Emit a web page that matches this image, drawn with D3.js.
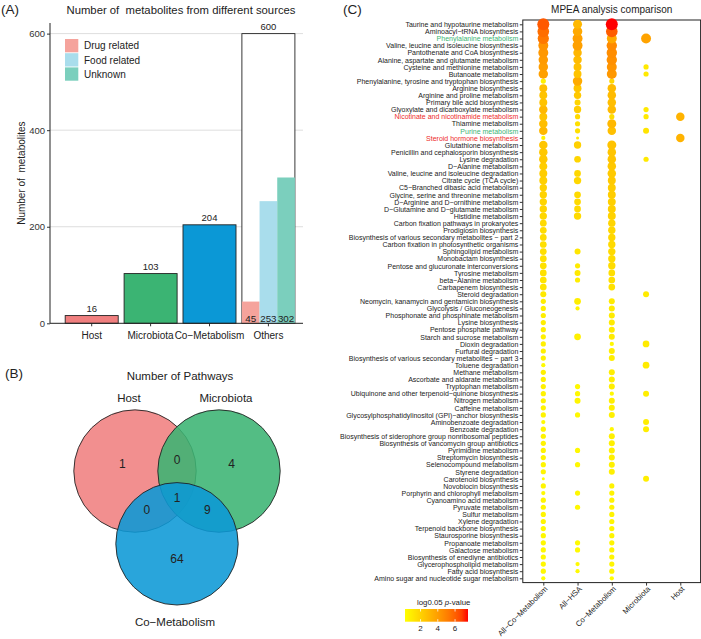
<!DOCTYPE html>
<html>
<head>
<meta charset="utf-8">
<script src="https://cdn.jsdelivr.net/npm/d3@7"></script>
<style>
html, body { margin: 0; padding: 0; background: #fff; }
svg { display: block; font-family: "Liberation Sans", Arial, Helvetica, sans-serif; }
.pre { white-space: pre; }
</style>
</head>
<body>
<svg id="chart" width="701" height="639"></svg>
<script>
// ---------- (A) metabolites by source ----------
const sources = ['Host', 'Microbiota', 'Co−Metabolism', 'Others'];
const sourceCounts = [16, 103, 204, 600];
const sourceColors = ['#f07f7f', '#3bb473', '#0b98d6', '#ffffff'];
const otherKinds = ['Drug related', 'Food related', 'Unknown'];
const otherCounts = [45, 253, 302];
const otherColors = ['#f5a39c', '#a9ddec', '#7bcfbd'];
const yTicksA = [0, 200, 400, 600];

// ---------- (B) venn of pathways ----------
const vennSets = ['Host', 'Microbiota', 'Co−Metabolism'];
const vennColors = ['#f07f7f', '#3bb473', '#0b98d6'];
const vennRegions = ['H', 'M', 'C', 'HM', 'HC', 'MC', 'HMC'];
const vennCounts = [1, 4, 64, 0, 0, 9, 1];

// ---------- (C) MPEA comparison ----------
const dotColumns = ['All−Co−Metabolism', 'All−HSA', 'Co−Metabolism', 'Microbiota', 'Host'];
const pathways = [
    'Taurine and hypotaurine metabolism',
    'Aminoacyl−tRNA biosynthesis',
    'Phenylalanine metabolism',
    'Valine, leucine and isoleucine biosynthesis',
    'Pantothenate and CoA biosynthesis',
    'Alanine, aspartate and glutamate metabolism',
    'Cysteine and methionine metabolism',
    'Butanoate metabolism',
    'Phenylalanine, tyrosine and tryptophan biosynthesis',
    'Arginine biosynthesis',
    'Arginine and proline metabolism',
    'Primary bile acid biosynthesis',
    'Glyoxylate and dicarboxylate metabolism',
    'Nicotinate and nicotinamide metabolism',
    'Thiamine metabolism',
    'Purine metabolism',
    'Steroid hormone biosynthesis',
    'Glutathione metabolism',
    'Penicillin and cephalosporin biosynthesis',
    'Lysine degradation',
    'D−Alanine metabolism',
    'Valine, leucine and isoleucine degradation',
    'Citrate cycle (TCA cycle)',
    'C5−Branched dibasic acid metabolism',
    'Glycine, serine and threonine metabolism',
    'D−Arginine and D−ornithine metabolism',
    'D−Glutamine and D−glutamate metabolism',
    'Histidine metabolism',
    'Carbon fixation pathways in prokaryotes',
    'Prodigiosin biosynthesis',
    'Biosynthesis of various secondary metabolites − part 2',
    'Carbon fixation in photosynthetic organisms',
    'Sphingolipid metabolism',
    'Monobactam biosynthesis',
    'Pentose and glucuronate interconversions',
    'Tyrosine metabolism',
    'beta−Alanine metabolism',
    'Carbapenem biosynthesis',
    'Steroid degradation',
    'Neomycin, kanamycin and gentamicin biosynthesis',
    'Glycolysis / Gluconeogenesis',
    'Phosphonate and phosphinate metabolism',
    'Lysine biosynthesis',
    'Pentose phosphate pathway',
    'Starch and sucrose metabolism',
    'Dioxin degradation',
    'Furfural degradation',
    'Biosynthesis of various secondary metabolites − part 3',
    'Toluene degradation',
    'Methane metabolism',
    'Ascorbate and aldarate metabolism',
    'Tryptophan metabolism',
    'Ubiquinone and other terpenoid−quinone biosynthesis',
    'Nitrogen metabolism',
    'Caffeine metabolism',
    'Glycosylphosphatidylinositol (GPI)−anchor biosynthesis',
    'Aminobenzoate degradation',
    'Benzoate degradation',
    'Biosynthesis of siderophore group nonribosomal peptides',
    'Biosynthesis of vancomycin group antibiotics',
    'Pyrimidine metabolism',
    'Streptomycin biosynthesis',
    'Selenocompound metabolism',
    'Styrene degradation',
    'Carotenoid biosynthesis',
    'Novobiocin biosynthesis',
    'Porphyrin and chlorophyll metabolism',
    'Cyanoamino acid metabolism',
    'Pyruvate metabolism',
    'Sulfur metabolism',
    'Xylene degradation',
    'Terpenoid backbone biosynthesis',
    'Staurosporine biosynthesis',
    'Propanoate metabolism',
    'Galactose metabolism',
    'Biosynthesis of enediyne antibiotics',
    'Glycerophospholipid metabolism',
    'Fatty acid biosynthesis',
    'Amino sugar and nucleotide sugar metabolism'
];
const labelColors = {
    'Phenylalanine metabolism': '#3db574',
    'Purine metabolism': '#3db574',
    'Nicotinate and nicotinamide metabolism': '#ee2a2a',
    'Steroid hormone biosynthesis': '#ee2a2a'
};

// dense columns: one entry per pathway (hits 0 = not enriched)
const allCoHits = [16, 15, 14, 11, 11, 10, 10, 10, 3, 7, 7, 7, 8, 7, 8, 8, 2, 8, 8, 8,
    7, 7, 7, 6, 6, 6, 6, 6, 5, 5, 5, 5, 5, 5, 5, 5, 5, 5, 4, 3,
    3, 3, 3, 3, 3, 3, 3, 3, 2, 3, 3, 3, 3, 3, 3, 3, 2, 3, 3, 3,
    3, 3, 3, 3, 1, 3, 2, 3, 3, 3, 3, 3, 3, 3, 3, 3, 3, 3, 2];
const allCoLogP = [6.2, 5.6, 5.3, 4.4, 4.2, 4.1, 4.0, 3.9, 0.8, 2.8, 2.6, 2.6, 3.0, 2.6, 2.8, 3.0, 0.7, 2.5, 2.4, 2.4,
    2.2, 2.2, 2.1, 2.0, 2.0, 1.9, 1.9, 1.8, 1.7, 1.6, 1.6, 1.5, 1.5, 1.4, 1.4, 1.4, 1.3, 1.3, 1.1, 0.9,
    0.9, 0.9, 0.9, 0.9, 0.8, 0.8, 0.8, 0.8, 0.4, 0.8, 0.8, 0.8, 0.7, 0.7, 0.7, 0.7, 0.4, 0.7, 0.7, 0.7,
    0.7, 0.7, 0.6, 0.6, 0.2, 0.6, 0.4, 0.6, 0.6, 0.6, 0.6, 0.5, 0.5, 0.5, 0.5, 0.5, 0.5, 0.5, 0.3];
const coMetHits = [16, 15, 11, 12, 12, 12, 11, 11, 3, 8, 8, 8, 8, 3, 9, 8, 0, 9, 8, 8,
    8, 8, 7, 7, 7, 7, 7, 7, 6, 6, 6, 6, 6, 6, 6, 5, 5, 5, 0, 4,
    4, 4, 4, 4, 4, 2, 4, 4, 0, 4, 4, 4, 2, 4, 4, 4, 0, 2, 4, 4,
    4, 4, 4, 4, 0, 3, 3, 3, 3, 3, 3, 3, 3, 3, 3, 3, 3, 3, 2];
const coMetLogP = [7.5, 6.1, 3.6, 4.7, 4.6, 4.5, 4.3, 4.2, 1.8, 2.9, 2.9, 2.8, 2.9, 1.6, 3.0, 2.7, 0, 2.6, 2.5, 2.5,
    2.4, 2.3, 2.3, 2.2, 2.2, 2.1, 2.1, 2.0, 1.9, 1.8, 1.8, 1.7, 1.7, 1.6, 1.6, 1.5, 1.5, 1.4, 0, 1.0,
    1.0, 1.0, 1.0, 1.0, 1.0, 0.5, 0.9, 0.9, 0, 0.9, 0.9, 0.9, 0.5, 0.9, 0.8, 0.8, 0, 0.5, 0.8, 0.8,
    0.8, 0.8, 0.8, 0.8, 0, 0.7, 0.7, 0.7, 0.7, 0.7, 0.6, 0.6, 0.6, 0.6, 0.6, 0.6, 0.6, 0.6, 0.3];
// sparse columns: [pathway row (1-based), hits, log0.05 p]
const allHsa = [[1, 9, 3.0], [2, 10, 3.6], [3, 11, 3.9], [4, 11, 3.9], [5, 8, 3.1], [6, 8, 2.9], [7, 7, 2.7],
    [8, 7, 2.6], [9, 10, 3.5], [10, 7, 2.5], [11, 6, 2.4], [12, 4, 1.9], [13, 6, 2.2], [14, 3, 1.7],
    [15, 3, 1.5], [16, 3, 1.5], [17, 1, 1.0], [18, 6, 2.1], [20, 5, 1.9], [22, 5, 1.8], [23, 6, 1.8],
    [25, 5, 1.7], [26, 5, 1.7], [27, 5, 1.7], [28, 6, 1.7], [33, 4, 1.2], [35, 3, 1.0], [36, 4, 1.1],
    [37, 3, 0.9], [40, 5, 0.9], [41, 2, 0.6], [45, 5, 0.8], [52, 3, 0.5], [53, 3, 0.5], [54, 4, 0.6],
    [56, 3, 0.5], [61, 3, 0.5], [63, 3, 0.5], [67, 3, 0.5], [69, 3, 0.5], [74, 3, 0.4], [75, 3, 0.4],
    [77, 2, 0.4], [78, 2, 0.4]];
const microbiotaHits = [[3, 11, 3.8], [7, 3, 1.1], [8, 3, 1.1], [13, 3, 1.1], [14, 3, 1.1], [16, 4, 1.3],
    [20, 3, 1.1], [39, 4, 1.0], [46, 5, 1.0], [49, 5, 1.0], [53, 4, 0.9], [57, 4, 0.9], [58, 4, 0.9], [65, 4, 0.9]];
const hostHits = [[14, 8, 3.2], [17, 8, 3.2]];
const legendTicks = [2, 4, 6];

const svg = d3.select('#chart');
const textCol = '#222';

// =================== Panel A ===================
const gA = svg.append('g');
const xA = d3.scaleBand().domain(sources).range([62.25, 297.85]).paddingInner(0.1).paddingOuter(0.05);
const yA = d3.scaleLinear().domain([0, 622]).range([323.3, 23]);

gA.append('text').attr('x', 1).attr('y', 14).attr('font-size', 13.5).attr('fill', textCol).text('(A)');
gA.append('text').attr('class', 'pre').attr('x', 181).attr('y', 13.5).attr('text-anchor', 'middle')
    .attr('font-size', 11.3).attr('fill', textCol).text('Number of  metabolites from different sources');

// grid
gA.selectAll('line.grid').data(yTicksA.filter(d => d > 0)).enter().append('line')
    .attr('x1', 50).attr('x2', 303)
    .attr('y1', d => yA(d)).attr('y2', d => yA(d))
    .attr('stroke', '#dedede').attr('stroke-width', 1);

// main bars
const barData = sources.map((s, i) => ({ s, v: sourceCounts[i], c: sourceColors[i] }));
gA.selectAll('rect.bar').data(barData).enter().append('rect')
    .attr('x', d => xA(d.s)).attr('width', xA.bandwidth())
    .attr('y', d => yA(d.v)).attr('height', d => yA(0) - yA(d.v))
    .attr('fill', d => d.c).attr('stroke', '#222').attr('stroke-width', 0.9);

// sub bars inside "Others"
const xSub = d3.scaleBand().domain(otherKinds).range([xA('Others'), xA('Others') + xA.bandwidth()]);
const subData = otherKinds.map((k, i) => ({ k, v: otherCounts[i], c: otherColors[i] }));
gA.selectAll('rect.sub').data(subData).enter().append('rect')
    .attr('x', d => xSub(d.k)).attr('width', xSub.bandwidth())
    .attr('y', d => yA(d.v)).attr('height', d => yA(0) - yA(d.v))
    .attr('fill', d => d.c);

// value labels
gA.selectAll('text.val').data(barData).enter().append('text')
    .attr('x', d => xA(d.s) + xA.bandwidth() / 2).attr('y', d => yA(d.v) - 3.5)
    .attr('text-anchor', 'middle').attr('font-size', 9.5).attr('fill', textCol)
    .text(d => d.v);
gA.selectAll('text.subval').data(subData).enter().append('text')
    .attr('x', d => xSub(d.k) + xSub.bandwidth() / 2).attr('y', yA(0) - 1)
    .attr('text-anchor', 'middle').attr('font-size', 9.8).attr('fill', textCol)
    .text(d => d.v);

// axes
const axA = gA.append('g').attr('transform', 'translate(50,0)')
    .call(d3.axisLeft(yA).tickValues(yTicksA).tickSize(3).tickPadding(2).tickSizeOuter(0));
axA.select('.domain').remove();
axA.selectAll('text').attr('font-size', 9.5).attr('fill', '#333').attr('font-family', null);
axA.selectAll('line').attr('stroke', '#333');
gA.append('line').attr('x1', 50).attr('x2', 50).attr('y1', yA.range()[1]).attr('y2', yA(0)).attr('stroke', '#222');

const axAx = gA.append('g').attr('transform', `translate(0,${yA(0)})`)
    .call(d3.axisBottom(xA).tickSize(3).tickPadding(5.5).tickSizeOuter(0));
axAx.select('.domain').remove();
axAx.selectAll('text').attr('font-size', 10).attr('fill', textCol).attr('font-family', null);
axAx.selectAll('line').attr('stroke', '#333');
gA.append('line').attr('x1', 50).attr('x2', 303).attr('y1', yA(0)).attr('y2', yA(0)).attr('stroke', '#222');

gA.append('text').attr('class', 'pre')
    .attr('transform', `translate(25,${(yA.range()[0] + yA.range()[1]) / 2}) rotate(-90)`)
    .attr('text-anchor', 'middle').attr('font-size', 10).attr('fill', textCol)
    .text('Number of  metabolites');

// legend
const legA = gA.append('g').attr('transform', 'translate(65,39)');
otherKinds.forEach((k, i) => {
    legA.append('rect').attr('x', 0).attr('y', i * 14.2).attr('width', 13.3).attr('height', 13.3)
        .attr('fill', otherColors[i]);
    legA.append('text').attr('x', 19).attr('y', i * 14.2 + 10.3).attr('font-size', 10)
        .attr('fill', textCol).text(k);
});

// =================== Panel B ===================
const gB = svg.append('g');
gB.append('text').attr('x', 5).attr('y', 378).attr('font-size', 13.5).attr('fill', textCol).text('(B)');
gB.append('text').attr('x', 180).attr('y', 379.8).attr('text-anchor', 'middle')
    .attr('font-size', 11.5).attr('fill', textCol).text('Number of Pathways');

const vCenter = [177, 495.3];
const vDist = 48.5;
const vR = 61.2;
const vAngles = [-150, -30, 90];
const circles = vennSets.map((s, i) => ({
    s, c: vennColors[i],
    x: vCenter[0] + vDist * Math.cos(vAngles[i] * Math.PI / 180),
    y: vCenter[1] + vDist * Math.sin(vAngles[i] * Math.PI / 180)
}));
gB.selectAll('circle.venn').data(circles).enter().append('circle')
    .attr('cx', d => d.x).attr('cy', d => d.y).attr('r', vR)
    .attr('fill', d => d.c).attr('fill-opacity', 0.88)
    .attr('stroke', '#222').attr('stroke-width', 0.9);

// set labels
gB.append('text').attr('x', circles[0].x - 6).attr('y', circles[0].y - vR - 8).attr('text-anchor', 'middle')
    .attr('font-size', 11.5).attr('fill', textCol).text(vennSets[0]);
gB.append('text').attr('x', circles[1].x + 7).attr('y', circles[1].y - vR - 8).attr('text-anchor', 'middle')
    .attr('font-size', 11.5).attr('fill', textCol).text(vennSets[1]);
gB.append('text').attr('x', circles[2].x - 2).attr('y', circles[2].y + vR + 21).attr('text-anchor', 'middle')
    .attr('font-size', 11.5).attr('fill', textCol).text(vennSets[2]);

// region counts placed from circle geometry
function regionPos(key) {
    const idx = { H: 0, M: 1, C: 2 };
    const sets = key.split('').map(k => idx[k]);
    if (sets.length === 1) {
        const c = circles[sets[0]];
        return [vCenter[0] + 1.3 * (c.x - vCenter[0]), vCenter[1] + 1.3 * (c.y - vCenter[1])];
    }
    if (sets.length === 2) {
        const other = [0, 1, 2].find(i => !sets.includes(i));
        const c = circles[other];
        return [vCenter[0] - 0.72 * (c.x - vCenter[0]), vCenter[1] - 0.6 * (c.y - vCenter[1]) - (other === 2 ? 7 : 0)];
    }
    return [vCenter[0], vCenter[1] + 2.4];
}
gB.selectAll('text.count').data(vennRegions).enter().append('text')
    .attr('x', d => regionPos(d)[0]).attr('y', d => regionPos(d)[1])
    .attr('dy', '0.36em').attr('text-anchor', 'middle')
    .attr('font-size', 12).attr('fill', textCol)
    .text((d, i) => vennCounts[i]);

// =================== Panel C ===================
const gC = svg.append('g');
gC.append('text').attr('x', 343).attr('y', 14).attr('font-size', 13.5).attr('fill', textCol).text('(C)');

const panel = { x0: 522.8, x1: 700.6, y0: 20, y1: 582.6 };
gC.append('text').attr('x', (panel.x0 + panel.x1) / 2).attr('y', 13)
    .attr('text-anchor', 'middle').attr('font-size', 10).attr('fill', textCol)
    .text('MPEA analysis comparison');

const yC = d3.scalePoint().domain(pathways).range([24.3, 578.3]);
const xC = d3.scalePoint().domain(dotColumns).range([543.3, 680.3]);
const rC = d3.scaleSqrt().domain([0, 16]).range([0, 6]);

const dots = [];
pathways.forEach((p, i) => {
    if (allCoHits[i] > 0) dots.push({ col: dotColumns[0], p, n: allCoHits[i], v: allCoLogP[i] });
});
allHsa.forEach(d => dots.push({ col: dotColumns[1], p: pathways[d[0] - 1], n: d[1], v: d[2] }));
pathways.forEach((p, i) => {
    if (coMetHits[i] > 0) dots.push({ col: dotColumns[2], p, n: coMetHits[i], v: coMetLogP[i] });
});
microbiotaHits.forEach(d => dots.push({ col: dotColumns[3], p: pathways[d[0] - 1], n: d[1], v: d[2] }));
hostHits.forEach(d => dots.push({ col: dotColumns[4], p: pathways[d[0] - 1], n: d[1], v: d[2] }));

const vExt = d3.extent(dots, d => d.v);
const colorC = d3.scaleLinear().domain(vExt).range(['#ffff00', '#ff0000']).interpolate(d3.interpolateLab);

gC.append('rect').attr('x', panel.x0).attr('y', panel.y0)
    .attr('width', panel.x1 - panel.x0).attr('height', panel.y1 - panel.y0)
    .attr('fill', '#fff').attr('stroke', '#222').attr('stroke-width', 1);

// draw from bottom rows up so top big dots sit on top
gC.append('g').selectAll('circle').data(dots.slice().sort((a, b) => yC(b.p) - yC(a.p))).enter().append('circle')
    .attr('cx', d => xC(d.col)).attr('cy', d => yC(d.p)).attr('r', d => rC(d.n))
    .attr('fill', d => colorC(d.v));

const axC = gC.append('g').attr('transform', `translate(${panel.x0},0)`)
    .call(d3.axisLeft(yC).tickSize(3).tickPadding(1.5).tickSizeOuter(0));
axC.select('.domain').remove();
axC.selectAll('line').attr('stroke', '#333');
axC.selectAll('text').attr('font-size', 7).attr('font-family', null)
    .attr('fill', d => labelColors[d] || textCol);

const axCx = gC.append('g').attr('transform', `translate(0,${panel.y1})`)
    .call(d3.axisBottom(xC).tickSize(3).tickSizeOuter(0));
axCx.select('.domain').remove();
axCx.selectAll('line').attr('stroke', '#333');
axCx.selectAll('text')
    .attr('y', 0).attr('x', 0).attr('dy', '0.6em')
    .attr('transform', 'translate(1,3.5) rotate(-45)')
    .style('text-anchor', 'end')
    .attr('font-size', 7.7).attr('font-family', null).attr('fill', textCol);

// colour bar legend
const leg = { x: 405, y: 609, w: 63, h: 12.7 };
const grad = svg.append('defs').append('linearGradient').attr('id', 'pgrad');
d3.range(0, 1.0001, 0.1).forEach(t => {
    grad.append('stop').attr('offset', t).attr('stop-color', colorC(vExt[0] + t * (vExt[1] - vExt[0])));
});
const gL = gC.append('g');
const title = gL.append('text').attr('x', 417).attr('y', 604.5).attr('font-size', 7.8).attr('fill', textCol);
title.append('tspan').text('log0.05 ');
title.append('tspan').attr('font-style', 'italic').text('p');
title.append('tspan').text('-value');
gL.append('rect').attr('x', leg.x).attr('y', leg.y).attr('width', leg.w).attr('height', leg.h)
    .attr('fill', 'url(#pgrad)');
const xLeg = d3.scaleLinear().domain(vExt).range([leg.x, leg.x + leg.w]);
legendTicks.forEach(t => {
    gL.append('line').attr('x1', xLeg(t)).attr('x2', xLeg(t)).attr('y1', leg.y).attr('y2', leg.y + 2.5)
        .attr('stroke', '#fff').attr('stroke-width', 0.8);
    gL.append('line').attr('x1', xLeg(t)).attr('x2', xLeg(t)).attr('y1', leg.y + leg.h - 2.5).attr('y2', leg.y + leg.h)
        .attr('stroke', '#fff').attr('stroke-width', 0.8);
    gL.append('text').attr('x', xLeg(t)).attr('y', 631).attr('text-anchor', 'middle')
        .attr('font-size', 8).attr('fill', textCol).text(t);
});
</script>
</body>
</html>
